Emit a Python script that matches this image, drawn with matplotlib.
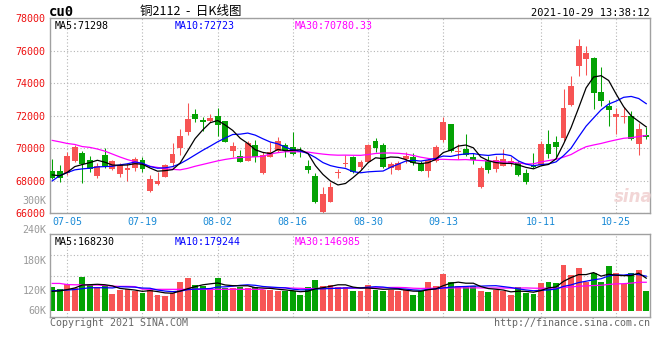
import numpy as np
import pandas as pd
import matplotlib
matplotlib.use('Agg')
import matplotlib.pyplot as plt

# 交易日 (2021-07-01 .. 2021-10-29)
dates = ['07-01', '07-02', '07-05', '07-06', '07-07', '07-08', '07-09', '07-12', '07-13', '07-14',
         '07-15', '07-16', '07-19', '07-20', '07-21', '07-22', '07-23', '07-26', '07-27', '07-28',
         '07-29', '07-30', '08-02', '08-03', '08-04', '08-05', '08-06', '08-09', '08-10', '08-11',
         '08-12', '08-13', '08-16', '08-17', '08-18', '08-19', '08-20', '08-23', '08-24', '08-25',
         '08-26', '08-27', '08-30', '08-31', '09-01', '09-02', '09-03', '09-06', '09-07', '09-08',
         '09-09', '09-10', '09-13', '09-14', '09-15', '09-16', '09-17', '09-22', '09-23', '09-24',
         '09-27', '09-28', '09-29', '09-30', '10-08', '10-11', '10-12', '10-13', '10-14', '10-15',
         '10-18', '10-19', '10-20', '10-21', '10-22', '10-25', '10-26', '10-27', '10-28', '10-29']
tick_dates = ['07-05', '07-19', '08-02', '08-16', '08-30', '09-13', '10-11', '10-25']

open_ = [68600, 68600, 68460, 69220, 69690, 69280, 68310, 69590, 68730, 68420,
         68660, 68770, 69280, 67370, 67800, 68250, 69070, 70000, 71020, 72110,
         71740, 71700, 72000, 71680, 69830, 69540, 69240, 70200, 68500, 69480,
         69850, 70200, 70100, 69830, 68930, 68290, 66050, 66720, 68500, 69030,
         69480, 68870, 69180, 70450, 70200, 68770, 68670, 69320, 69480, 69070,
         68600, 69220, 70510, 71490, 69770, 69970, 69460, 67590, 69190, 68740,
         68930, 69090, 69090, 68470, 68990, 68990, 70280, 70360, 70630, 72640,
         75030, 75510, 75550, 73460, 72570, 71920, 71940, 72000, 70280, 70830]
high = [69340, 68970, 69750, 70200, 69830, 69520, 69070, 70000, 69250, 69070,
        69070, 69480, 69440, 68360, 68520, 69010, 70300, 71160, 72770, 72420,
        71940, 72110, 72500, 71700, 70400, 69890, 70470, 70510, 69750, 70400,
        70710, 70340, 71000, 70100, 69280, 68500, 67600, 67940, 68720, 69590,
        69540, 69280, 70250, 70650, 70300, 69180, 69220, 69750, 69690, 69220,
        69420, 70200, 71940, 71500, 70260, 70890, 69700, 68880, 69540, 69500,
        69950, 69440, 69190, 68720, 69700, 70420, 71140, 70770, 73640, 74420,
        76720, 76260, 75590, 74990, 72980, 72470, 72510, 72310, 71550, 71300]
low = [68090, 67950, 68360, 69180, 67880, 68560, 68150, 68770, 68670, 68250,
       68010, 68620, 68520, 67330, 67740, 68210, 68870, 69590, 70820, 71640,
       71060, 71600, 70750, 70380, 69480, 69140, 69200, 69180, 68420, 69440,
       69790, 69480, 69590, 69480, 68460, 66660, 66000, 66680, 68150, 68870,
       68460, 68720, 69140, 69790, 68810, 68420, 68660, 69070, 68970, 68600,
       68250, 69180, 70400, 69770, 69340, 69540, 69050, 67550, 68470, 68520,
       68880, 68880, 68270, 67820, 68800, 68950, 69400, 69440, 70460, 72600,
       74460, 74480, 72430, 72570, 71340, 70870, 71550, 70520, 69600, 70570]
close = [68150, 68190, 69520, 70100, 69030, 68730, 68910, 68930, 69220, 68970,
         68810, 69320, 68730, 68090, 67990, 68970, 69630, 70750, 71800, 71800,
         71600, 71880, 71430, 70400, 70160, 69180, 70300, 69480, 69590, 69790,
         70470, 69890, 69630, 69750, 68660, 66720, 67190, 67600, 68540, 69110,
         68520, 69180, 70200, 70040, 68870, 69010, 69070, 69520, 69070, 68600,
         69280, 70100, 71610, 69810, 69850, 69600, 69250, 68800, 68640, 69290,
         69360, 69230, 68330, 67900, 68840, 70280, 69660, 70050, 72470, 73850,
         76310, 75850, 73390, 72880, 72370, 72120, 71980, 70590, 71180, 70690]

# 成交量 (K)
volume = [129, 120, 142, 125, 173, 137, 129, 132, 100, 117,
          120, 110, 103, 117, 95, 91, 103, 150, 169, 140,
          132, 125, 169, 125, 125, 129, 125, 128, 117, 117,
          110, 110, 110, 95, 129, 162, 135, 140, 129, 128,
          113, 113, 140, 117, 113, 117, 113, 117, 95, 110,
          151, 132, 187, 151, 132, 128, 132, 113, 107, 117,
          110, 92, 128, 103, 98, 147, 151, 147, 228, 181,
          213, 151, 191, 150, 223, 191, 142, 191, 204, 113]

# 图中读出的均线起始段 (窗口之前的数据不在图内)
ma5_head = [68360, 68300, 68520, 68870]
ma10_head = [67990, 68320, 68500, 68670, 68730, 68770, 68850, 68870, 68890]
ma30_head = [70480, 70390, 70290, 70230, 70100, 70050, 69950, 69820, 69640, 69460,
             69300, 69170, 69020, 68890, 68820, 68740, 68700, 68670, 68760, 68890,
             69000, 69110, 69220, 69310, 69380, 69430, 69450, 69470, 69500]
vma5_head = [110, 112, 118, 125]
vma10_head = [113, 114, 116, 118, 122, 126, 126, 126, 125]
vma30_head = [145, 145, 140, 139, 139, 138, 138, 136, 133, 132,
              132, 131, 120, 119, 119, 119, 119, 119, 119, 119,
              119, 119, 119, 119, 119, 119, 119, 119, 119]

RED = '#f75454'
GREEN = '#04a204'
LBL_RED = '#ee1111'
BLUE_TXT = '#1a8ad6'
GRID = '#b4b4b4'
BORDER = '#a0a0a0'

plt.rcParams['font.family'] = ['DejaVu Sans Mono', 'Noto Sans CJK SC']

W, H = 660, 360


def fx(px):
    return px / W


def fy(py):
    return 1 - py / H


def rolling(values, n, head):
    s = pd.Series(values, dtype=float).rolling(n).mean()
    s.iloc[:len(head)] = head
    return s.values


idx = np.arange(len(dates))
o = np.array(open_)
c = np.array(close)
hi = np.array(high)
lo = np.array(low)
vol = np.array(volume, dtype=float)
cols = np.where(c >= o, RED, GREEN)
tick_idx = [dates.index(d) for d in tick_dates]

fig = plt.figure(figsize=(W / 100, H / 100), dpi=100)
fig.patch.set_facecolor('white')

# --- K线 ---
ax = fig.add_axes([fx(50), fy(213.3), fx(600), (213.3 - 18) / H])
ax.set_xlim(-0.3, 79.5)
ax.set_ylim(66000, 78000)
ax.vlines(idx, lo, hi, colors=cols, lw=0.75, zorder=2)
body_bot = np.minimum(o, c)
body_h = np.maximum(np.abs(c - o), 60)
ax.bar(idx, body_h, bottom=body_bot, width=0.78, color=cols, lw=0, zorder=3)
ax.plot(idx, rolling(close, 30, ma30_head), color='#ff00ff', lw=0.9, zorder=4)
ax.plot(idx, rolling(close, 10, ma10_head), color='#0000ff', lw=0.9, zorder=5)
ax.plot(idx, rolling(close, 5, ma5_head), color='black', lw=0.9, zorder=6)

ax.set_yticks(range(66000, 78001, 2000))
ax.tick_params(axis='y', length=0, pad=3.5, labelcolor=LBL_RED, labelsize=7.2)
ax.set_xticks(tick_idx)
ax.set_xticklabels(tick_dates)
ax.tick_params(axis='x', length=0, pad=2.5, labelcolor=BLUE_TXT, labelsize=7.2)
ax.grid(True, color=GRID, ls=(0, (1, 2)), lw=0.8, zorder=0)
for sp in ax.spines.values():
    sp.set_color(BORDER)
    sp.set_linewidth(1.0)

ax.text(0.007, 0.985, 'MA5:71298', transform=ax.transAxes, color='black', fontsize=7.2, va='top')
ax.text(0.207, 0.985, 'MA10:72723', transform=ax.transAxes, color='#0000ff', fontsize=7.2, va='top')
ax.text(0.407, 0.985, 'MA30:70780.33', transform=ax.transAxes, color='#ff00ff', fontsize=7.2, va='top')
ax.text(0.972, 0.085, 'sina', transform=ax.transAxes, color='#f2d6d6', fontsize=12,
        fontweight='bold', style='italic', ha='center', va='center', family='DejaVu Sans')

# --- 成交量 ---
av = fig.add_axes([fx(50), fy(317.3), fx(600), (317.3 - 234) / H])
av.set_xlim(-0.3, 79.5)
vmin, vmax = -4.4, 363
av.set_ylim(vmin, vmax)
base = 25
av.bar(idx, vol - base, bottom=base, width=0.78, color=cols, lw=0, zorder=2)
av.plot(idx, rolling(volume, 30, vma30_head), color='#ff00ff', lw=0.9, zorder=3)
av.plot(idx, rolling(volume, 10, vma10_head), color='#0000ff', lw=0.9, zorder=4)
av.plot(idx, rolling(volume, 5, vma5_head), color='black', lw=0.9, zorder=5)
av.set_yticks(np.linspace(vmin, vmax, 5)[1:-1])
av.set_yticklabels([])
av.set_xticks(tick_idx)
av.set_xticklabels([])
av.tick_params(length=0)
av.grid(True, color=GRID, ls=(0, (1, 2)), lw=0.8, zorder=0)
for sp in av.spines.values():
    sp.set_color(BORDER)
    sp.set_linewidth(1.0)

av.text(0.007, 0.965, 'MA5:168230', transform=av.transAxes, color='black', fontsize=7.2, va='top')
av.text(0.207, 0.965, 'MA10:179244', transform=av.transAxes, color='#0000ff', fontsize=7.2, va='top')
av.text(0.407, 0.965, 'MA30:146985', transform=av.transAxes, color='#ff00ff', fontsize=7.2, va='top')

# 量轴标签 (新浪图上的位置)
for lbl, py in zip(['300K', '240K', '180K', '120K', '60K'], [200.5, 230.5, 261.5, 290.5, 310.5]):
    fig.text(fx(46.5), fy(py), lbl, color='#999999', fontsize=7.2, ha='right', va='center')

# --- 标题 ---
fig.text(fx(49), fy(11.5), 'cu0', fontsize=10, fontweight='bold', va='center')
fig.text(fx(140), fy(12), '铜2112  -  日K线图', fontsize=9, va='center',
         family=['Noto Sans CJK SC', 'DejaVu Sans'])
fig.text(fx(650), fy(12.5), '2021-10-29 13:38:12', fontsize=7.5, ha='right', va='center')
fig.text(fx(50), fy(323.3), 'Copyright 2021 SINA.COM', color='#666666', fontsize=7.2, va='center')
fig.text(fx(650), fy(323.3), 'http://finance.sina.com.cn', color='#666666', fontsize=7.2,
         ha='right', va='center')

fig.savefig('out.png', dpi=100, facecolor='white')
